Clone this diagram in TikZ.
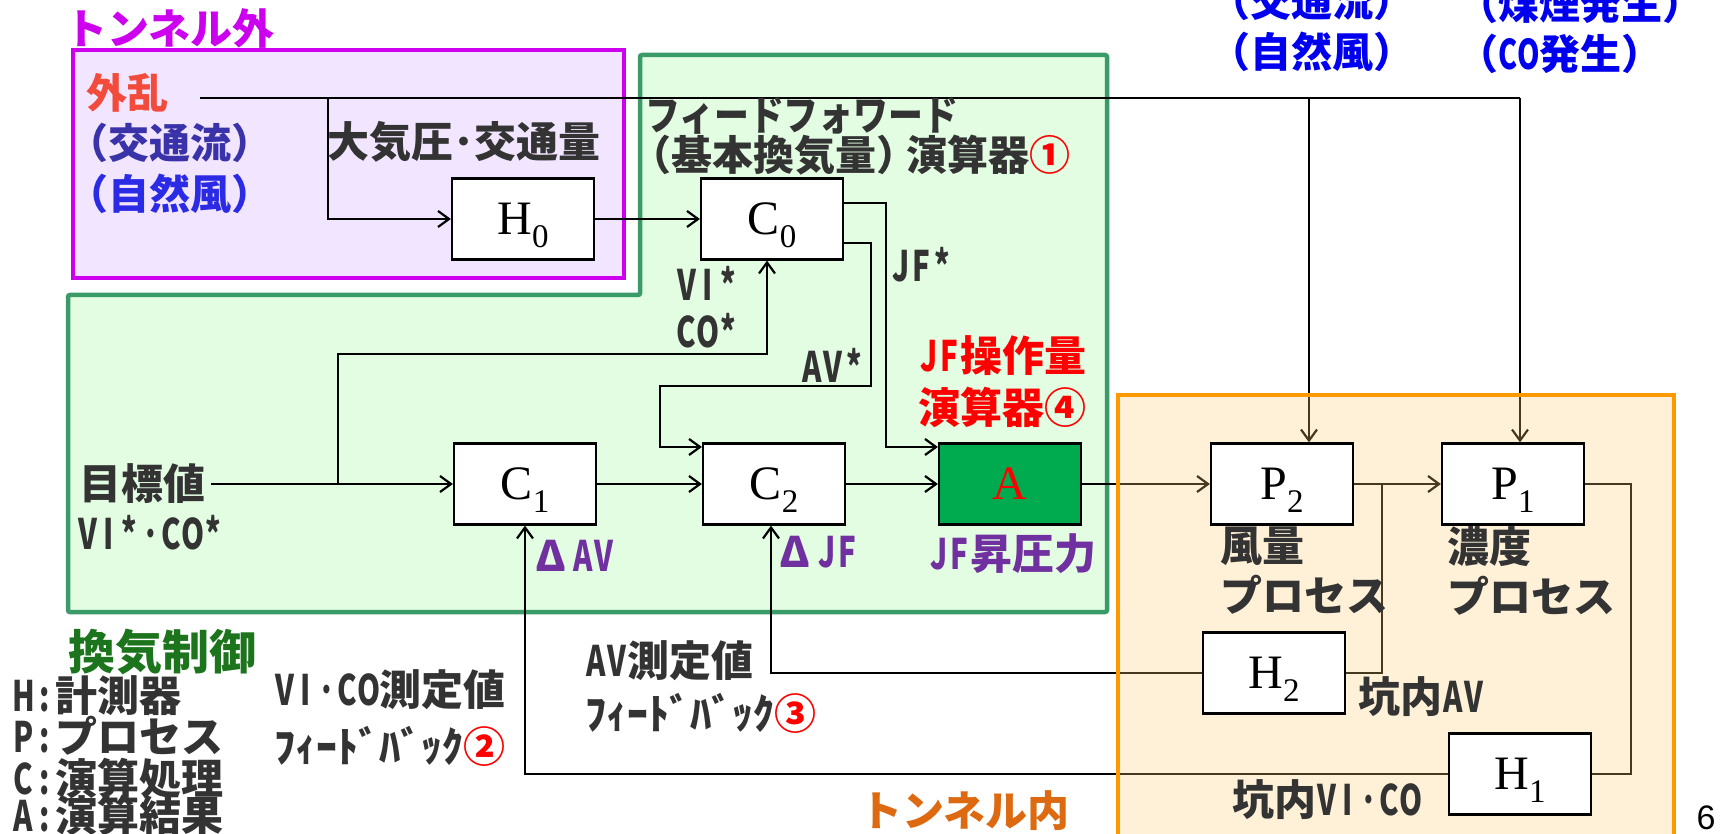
\documentclass[tikz,border=0pt]{standalone}
\usepackage{fontspec}
\usepackage{graphicx}
\usetikzlibrary{arrows.meta}
\newfontfamily\jp{Noto Sans CJK JP}
\newfontfamily\ser{Liberation Serif}
\newfontfamily\lsans{Liberation Sans}
\definecolor{tx}{HTML}{333333}
\definecolor{mag}{HTML}{CC00EE}
\definecolor{magfill}{HTML}{F2E5FF}
\definecolor{grn}{HTML}{3A9A68}
\definecolor{grnfill}{HTML}{E3FDE3}
\definecolor{org}{HTML}{FF9900}
\definecolor{orgov}{RGB}{255,207,114}
\definecolor{red1}{HTML}{FF0000}
\definecolor{gred}{HTML}{F24B3C}
\definecolor{indig}{HTML}{3A32A8}
\definecolor{blu}{HTML}{2B2BE6}
\definecolor{blu2}{HTML}{0000EE}
\definecolor{purp}{HTML}{7030A0}
\definecolor{dgrn}{HTML}{1C741C}
\definecolor{otxt}{HTML}{DD6A10}
\definecolor{agrn}{HTML}{00AA4F}
\newcommand\fs[1]{\fontsize{#1}{#1}\selectfont}
\newcommand\hc[1]{\makebox[0.5em][c]{\scalebox{0.7}[1]{#1}}}
\newcommand\hws[1]{\hwsloop#1\relax}
\def\hwsloop#1{\ifx\relax#1\else\hc{#1}\expandafter\hwsloop\fi}
\newcommand\bl[2]{{\ser\fs{48}#1\raisebox{-13pt}[0pt][0pt]{\fs{33}#2}}}
\pgfdeclarelayer{bg}
\pgfdeclarelayer{lines}
\pgfdeclarelayer{ov}
\pgfsetlayers{bg,lines,ov,main}
\tikzset{
  box/.style={draw=black, line width=2.2pt, fill=white, minimum width=142pt, minimum height=81pt, inner sep=0pt},
  ln/.style={line width=2.2pt, black},
  arr/.style={ln, -{Straight Barb[length=11pt,width=16pt]}},
  lbl/.style={inner sep=0pt, anchor=west, font=\jp\bfseries\fs{42}, text=tx},
}
\begin{document}
\begin{tikzpicture}[x=1pt,y=-1pt]
\useasboundingbox (0,0) rectangle (1721,834);
\begin{pgfonlayer}{bg}
\fill[white] (0,0) rectangle (1721,834);
\draw[mag, line width=4.5pt, fill=magfill] (73,50) rectangle (624,278);
\draw[grn, line width=4.5pt, fill=grnfill, rounded corners=2pt] (68,295) -- (640,295) -- (640,55) -- (1107,55) -- (1107,612) -- (68,612) -- cycle;
\end{pgfonlayer}
\begin{pgfonlayer}{ov}
\fill[orgov, fill opacity=0.28] (1118,395) rectangle (1674,860);
\draw[org, line width=4.5pt] (1118,860) -- (1118,395) -- (1674,395) -- (1674,860);
\end{pgfonlayer}
% boxes
\node[box] (H0) at (523,219) {\bl{H}{0}};
\node[box] (C0) at (772,219) {\bl{C}{0}};
\node[box] (C1) at (525,484) {\bl{C}{1}};
\node[box] (C2) at (774,484) {\bl{C}{2}};
\node[box, fill=agrn, text=red1] (A) at (1010,484) {{\ser\fs{48}A}};
\node[box] (P2) at (1282,484) {\bl{P}{2}};
\node[box] (P1) at (1513,484) {\bl{P}{1}};
\node[box] (H2) at (1274,673) {\bl{H}{2}};
\node[box] (H1) at (1520,774) {\bl{H}{1}};
% labels
\node[lbl, text=mag] (tout) at (65,28) {トンネル外};
\node[lbl, text=gred] (gairan) at (86,93) {\fs{41}外乱};
\node[lbl, text=indig] (kotsuL) at (67,143) {\fs{41}（交通流）};
\node[lbl, text=blu] (jizenL) at (67,194) {\fs{41}（自然風）};
\node[lbl] (taiki) at (327,142) {大気圧･交通量};
\node[lbl] (ff1) at (645,116) {\fs{41}\scalebox{0.85}[1]{フィードフォワード}};
\node[lbl] (ff2) at (630,155) {\fs{41}（基本換気量）\kern-0.25em演算器\textcolor{red1}{①}};
\node[lbl] (vis) at (676,283) {\hws{VI*}};
\node[lbl] (cos) at (676,331) {\hws{CO*}};
\node[lbl] (jfs) at (890,265) {\hws{JF*}};
\node[lbl, anchor=east] (avs) at (865,365) {\hws{AV*}};
\node[lbl, text=red1] (jfop) at (918,356) {\hws{JF}操作量};
\node[lbl, text=red1] (ens4) at (918,407) {演算器④};
\node[lbl] (mokuhyo) at (79,484) {目標値};
\node[lbl] (vico) at (77,533) {\hws{VI*･CO*}};
\node[lbl, text=purp] (dav) at (530,556) {\makebox[1em]{Δ}\hws{AV}};
\node[lbl, text=purp] (djf) at (774,552) {\makebox[1em]{Δ}\hws{JF}};
\node[lbl, text=purp] (jfsho) at (928,554) {\hws{JF}昇圧力};
\node[lbl] (fu) at (1220,546) {風量};
\node[lbl] (pr2) at (1220,595) {プロセス};
\node[lbl] (noudo) at (1447,547) {濃度};
\node[lbl] (pr1) at (1447,596) {プロセス};
\node[lbl] (konav) at (1358,697) {坑内\hws{AV}};
\node[lbl] (konvc) at (1232,800) {坑内\hws{VI･CO}};
\node[lbl, text=dgrn] (kanki) at (68,652) {\fs{47}換気制御};
\node[lbl] (lg1) at (13,696) {\hws{H:}計測器};
\node[lbl] (lg2) at (13,736) {\hws{P:}プロセス};
\node[lbl] (lg3) at (13,778) {\hws{C:}演算処理};
\node[lbl] (lg4) at (13,815) {\hws{A:}演算結果};
\node[lbl] (vcs) at (274,690) {\hws{VI･CO}測定値};
\node[lbl] (fb2) at (274,746) {ﾌｨｰﾄﾞﾊﾞｯｸ\textcolor{red1}{②}};
\node[lbl] (avsk) at (585,661) {\hws{AV}測定値};
\node[lbl] (fb3) at (585,713) {ﾌｨｰﾄﾞﾊﾞｯｸ\textcolor{red1}{③}};
\node[lbl, text=otxt] (tin) at (860,811) {トンネル内};
\node[lbl, text=blu2] (tr1) at (1209,1) {\fs{41}（交通流）};
\node[lbl, text=blu2] (tr2) at (1209,52) {\fs{41}（自然風）};
\node[lbl, text=blu2] (tr3) at (1457,4) {\fs{41}（煤煙発生）};
\node[lbl, text=blu2] (tr4) at (1457,54) {\fs{41}（\hws{CO}発生）};
\node[inner sep=0pt, font=\lsans\fs{34}] (pg) at (1706,818) {6};
% connectors
\begin{pgfonlayer}{lines}
\coordinate (d0) at (200,98);
\coordinate (b1) at (328,98);
\coordinate (b2) at (1309,98);
\coordinate (b3) at (1520,98);
\draw[ln] (d0) -- (b3);
\draw[arr] (b3) -- (b3 |- P1.north);
\draw[arr] (b2) -- (b2 |- P2.north);
\draw[arr] (b1) |- (H0.west);
\draw[arr] (H0) -- (C0);
\coordinate (c0u) at (886,203);
\coordinate (au) at (886,447);
\draw[arr] (C0.east |- c0u) -- (c0u) -- (au) -- (A.west |- au);
\coordinate (c0l) at (871,243);
\coordinate (c0l2) at (871,386);
\coordinate (c2u) at (660,386);
\coordinate (c2u2) at (660,447);
\draw[arr] (C0.east |- c0l) -- (c0l) -- (c0l2) -- (c2u) -- (c2u2) -- (C2.west |- c2u2);
\coordinate (t0) at (211,484);
\coordinate (t1) at (338,484);
\coordinate (t2) at (767,354);
\draw[arr] (t0) -- (C1.west);
\draw[arr] (t1) |- (t2) -- (t2 |- C0.south);
\draw[arr] (C1) -- (C2);
\draw[arr] (C2) -- (A);
\draw[arr] (A) -- (P2);
\draw[arr] (P2) -- (P1);
\coordinate (p2b) at (1382,484);
\draw[ln] (p2b) |- (H2.east);
\draw[arr] (H2.west) -| ([xshift=-3pt]C2.south);
\coordinate (p1r) at (1631,484);
\draw[ln] (P1.east) -- (p1r) |- (H1.east);
\draw[arr] (H1.west) -| (C1.south);
\end{pgfonlayer}
\end{tikzpicture}
\end{document}
